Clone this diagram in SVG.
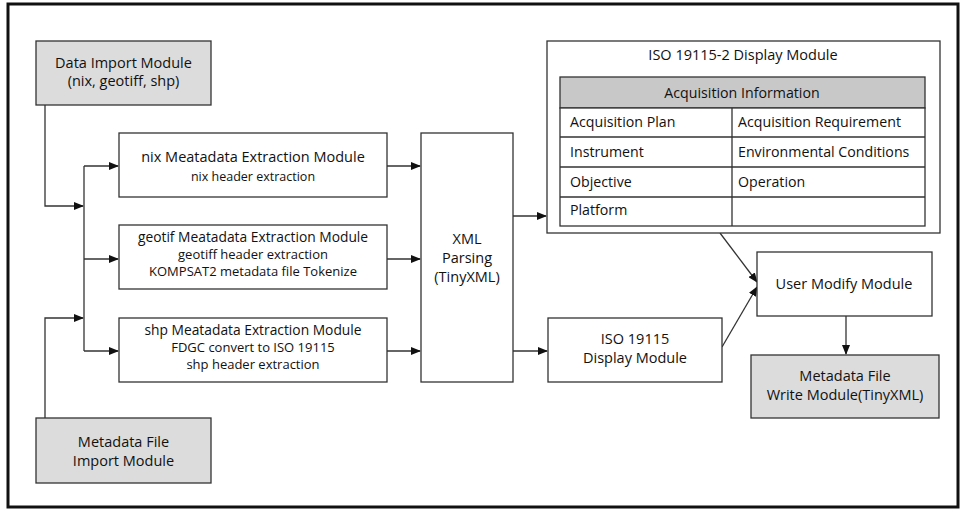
<svg xmlns="http://www.w3.org/2000/svg" width="962" height="510" viewBox="0 0 962 510">
<defs>
<marker id="ah" markerWidth="10" markerHeight="8" refX="9" refY="4" orient="auto" markerUnits="userSpaceOnUse">
<path d="M0,0 L10,4 L0,8 Z" fill="#111"/>
</marker>
<style>
.box{fill:#fff;stroke:#333;stroke-width:1.3}
.gbox{fill:#dcdcdc;stroke:#333;stroke-width:1.3}
.t{font-family:"Open Sans","Noto Sans",sans-serif;font-size:14.5px;fill:#111;text-anchor:middle}
.s{font-family:"Open Sans","Noto Sans",sans-serif;font-size:13px;fill:#111;text-anchor:middle}
.c{font-family:"Open Sans","Noto Sans",sans-serif;font-size:14.2px;fill:#111}
.ln{fill:none;stroke:#333;stroke-width:1.3}
.ar{fill:none;stroke:#333;stroke-width:1.3;marker-end:url(#ah)}
</style>
</defs>
<rect x="0" y="0" width="962" height="510" fill="#fff"/>
<rect x="8" y="4" width="950" height="503" fill="none" stroke="#111" stroke-width="3"/>

<g id="connectors">
<path class="ar" d="M45,105 V206 H83"/>
<path class="ar" d="M45,418 V318 H83"/>
<path class="ln" d="M84,166 V351"/>
<path class="ar" d="M84,166 H118"/>
<path class="ar" d="M84,259 H118"/>
<path class="ar" d="M84,351 H118"/>
<path class="ar" d="M387,166 H420"/>
<path class="ar" d="M387,259 H420"/>
<path class="ar" d="M387,351 H420"/>
<path class="ar" d="M513,216 H546"/>
<path class="ar" d="M513,351 H547"/>
<path class="ar" d="M720,233 L757,282"/>
<path class="ar" d="M722,347 L757,287"/>
<path class="ar" d="M846,316 V354"/>
</g>

<g id="data-import">
<rect class="gbox" x="36" y="41" width="175" height="64"/>
<text class="t" x="123.5" y="68">Data Import Module</text>
<text class="t" x="123.5" y="86">(nix, geotiff, shp)</text>
</g>

<g id="metadata-import">
<rect class="gbox" x="36" y="418" width="175" height="65"/>
<text class="t" x="123.5" y="447">Metadata File</text>
<text class="t" x="123.5" y="466">Import Module</text>
</g>

<g id="nix">
<rect class="box" x="119" y="133" width="268" height="64"/>
<text class="t" x="253" y="162">nix Meatadata Extraction Module</text>
<text class="s" x="253" y="181" style="font-size:12.5px">nix header extraction</text>
</g>

<g id="geotif">
<rect class="box" x="119" y="225" width="268" height="64"/>
<text class="s" x="253" y="242" style="font-size:13.8px">geotif Meatadata Extraction Module</text>
<text class="s" x="253" y="259">geotiff header extraction</text>
<text class="s" x="253" y="276">KOMPSAT2 metadata file Tokenize</text>
</g>

<g id="shp">
<rect class="box" x="119" y="318" width="268" height="64"/>
<text class="s" x="253" y="335" style="font-size:13.8px">shp Meatadata Extraction Module</text>
<text class="s" x="253" y="352">FDGC convert to ISO 19115</text>
<text class="s" x="253" y="369">shp header extraction</text>
</g>

<g id="xml">
<rect class="box" x="421" y="133" width="92" height="249"/>
<text class="t" x="467" y="244">XML</text>
<text class="t" x="467" y="263">Parsing</text>
<text class="t" x="467" y="282">(TinyXML)</text>
</g>

<g id="iso2">
<rect class="box" x="547" y="41" width="393" height="192"/>
<text class="t" x="743" y="60">ISO 19115-2 Display Module</text>
<rect x="560" y="77" width="365" height="31" fill="#c8c8c8" stroke="#333" stroke-width="1.3"/>
<rect x="560" y="108" width="365" height="118" fill="#fff" stroke="#333" stroke-width="1.3"/>
<path class="ln" d="M560,137 H925 M560,167 H925 M560,197 H925 M732,108 V226"/>
<text class="t" x="742" y="98" style="font-size:14.2px">Acquisition Information</text>
<text class="c" x="570" y="127">Acquisition Plan</text>
<text class="c" x="738" y="127">Acquisition Requirement</text>
<text class="c" x="570" y="157">Instrument</text>
<text class="c" x="738" y="157">Environmental Conditions</text>
<text class="c" x="570" y="187">Objective</text>
<text class="c" x="738" y="187">Operation</text>
<text class="c" x="570" y="215">Platform</text>
</g>

<g id="iso">
<rect class="box" x="548" y="318" width="174" height="64"/>
<text class="t" x="635" y="344">ISO 19115</text>
<text class="t" x="635" y="363">Display Module</text>
</g>

<g id="user-modify">
<rect class="box" x="757" y="252" width="175" height="64"/>
<text class="t" x="844" y="289">User Modify Module</text>
</g>

<g id="write">
<rect class="gbox" x="751" y="355" width="188" height="63"/>
<text class="t" x="845" y="381">Metadata File</text>
<text class="t" x="845" y="400">Write Module(TinyXML)</text>
</g>
</svg>
